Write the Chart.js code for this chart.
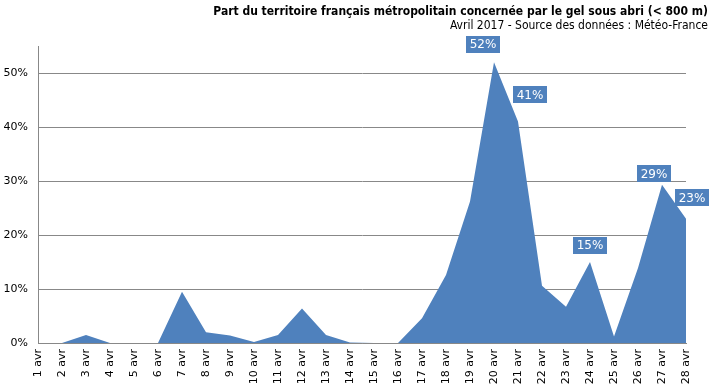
<!DOCTYPE html>
<html>
<head>
<meta charset="utf-8">
<script src="https://cdn.jsdelivr.net/npm/chart.js@4/dist/chart.umd.min.js"></script>
<style>
html,body{margin:0;padding:0;background:#fff;}
#wrap{width:715px;height:387px;position:relative;}
</style>
</head>
<body>
<div id="wrap"><canvas id="c" width="715" height="387"></canvas></div>
<script>
const titleText = "Part du territoire français métropolitain concernée par le gel sous abri (< 800 m)";
const subtitleText = "Avril 2017 - Source des données : Météo-France";
const categories = ["1 avr","2 avr","3 avr","4 avr","5 avr","6 avr","7 avr","8 avr","9 avr","10 avr","11 avr","12 avr","13 avr","14 avr","15 avr","16 avr","17 avr","18 avr","19 avr","20 avr","21 avr","22 avr","23 avr","24 avr","25 avr","26 avr","27 avr","28 avr"];
const values = [0,0,1.5,0,0,0,9.5,2,1.4,0.2,1.5,6.4,1.5,0.1,0,0,4.6,12.6,26.2,52,41,10.6,6.7,15,1.2,13.9,29.3,23];
const labelledDays = ["20 avr","21 avr","24 avr","27 avr","28 avr"];
const labelTexts = ["52%","41%","15%","29%","23%"];
const yTickValues = [0,10,20,30,40,50];

const BLUE = "#4F81BD";
const FONT = "'DejaVu Sans', Verdana, sans-serif";

// label offsets relative to the point (layout, not data)
const labelShift = {"20 avr":[-11,-18],"21 avr":[12,-27],"24 avr":[0,-17],"27 avr":[-8,-11],"28 avr":[6,-21]};

const titlePlugin = {
  id: "titles",
  afterDraw(chart) {
    const ctx = chart.ctx;
    ctx.save();
    ctx.fillStyle = "#000";
    ctx.textAlign = "right";
    ctx.textBaseline = "alphabetic";
    ctx.font = "bold 12px 'DejaVu Sans Condensed', 'DejaVu Sans', sans-serif";
    ctx.fillText(titleText, 708, 15);
    ctx.font = "12px 'DejaVu Sans Condensed', 'DejaVu Sans', sans-serif";
    ctx.fillText(subtitleText, 708, 29);
    ctx.restore();
  }
};

const shadowPlugin = {
  id: "areaShadow",
  beforeDatasetDraw(chart) {
    const ctx = chart.ctx;
    ctx.save();
    ctx.shadowColor = "rgba(0,0,0,0.28)";
    ctx.shadowBlur = 4;
    ctx.shadowOffsetX = 3;
    ctx.shadowOffsetY = 2;
  },
  afterDatasetDraw(chart) {
    chart.ctx.restore();
  }
};

const labelPlugin = {
  id: "boxLabels",
  afterDatasetsDraw(chart) {
    const ctx = chart.ctx;
    const xs = chart.scales.x, ys = chart.scales.y;
    ctx.save();
    ctx.font = "12px " + FONT;
    ctx.textAlign = "center";
    ctx.textBaseline = "middle";
    labelledDays.forEach((d, i) => {
      const idx = categories.indexOf(d);
      const px = xs.getPixelForValue(idx);
      const py = ys.getPixelForValue(values[idx]);
      const sh = labelShift[d] || [0, -17];
      const cx = px + sh[0], cy = py + sh[1];
      const t = labelTexts[i];
      const w = ctx.measureText(t).width + 7;
      const h = 17;
      ctx.fillStyle = BLUE;
      ctx.fillRect(Math.round(cx - w / 2), Math.round(cy - h / 2), Math.round(w), h);
      ctx.fillStyle = "#fff";
      ctx.fillText(t, cx, cy + 1);
    });
    ctx.restore();
  }
};

new Chart(document.getElementById("c"), {
  type: "line",
  data: {
    labels: categories,
    datasets: [{
      data: values,
      fill: "origin",
      backgroundColor: BLUE,
      borderWidth: 0,
      borderColor: BLUE,
      pointRadius: 0,
      tension: 0
    }]
  },
  options: {
    responsive: false,
    animation: false,
    devicePixelRatio: 1,
    layout: { padding: { top: 46, right: 29, left: 0, bottom: 0 } },
    plugins: { legend: { display: false }, tooltip: { enabled: false }, title: { display: false } },
    scales: {
      x: {
        offset: false,
        grid: { display: false, drawTicks: false },
        border: { display: true, color: "#888", width: 1 },
        ticks: {
          autoSkip: false, maxRotation: 90, minRotation: 90, padding: 6,
          color: "#000", font: { family: FONT, size: 11 }
        },
        afterFit(s) { s.height = 44; }
      },
      y: {
        min: 0, max: 55,
        grid: { color: "#888", lineWidth: 1, drawTicks: false },
        border: { display: true, color: "#888", width: 1 },
        ticks: {
          padding: 10, color: "#000", font: { family: FONT, size: 11 },
          callback: v => v + "%"
        },
        afterBuildTicks(s) { s.ticks = yTickValues.map(v => ({ value: v })); },
        afterFit(s) { s.width = 38; }
      }
    }
  },
  plugins: [shadowPlugin, labelPlugin, titlePlugin]
});
</script>
</body>
</html>
